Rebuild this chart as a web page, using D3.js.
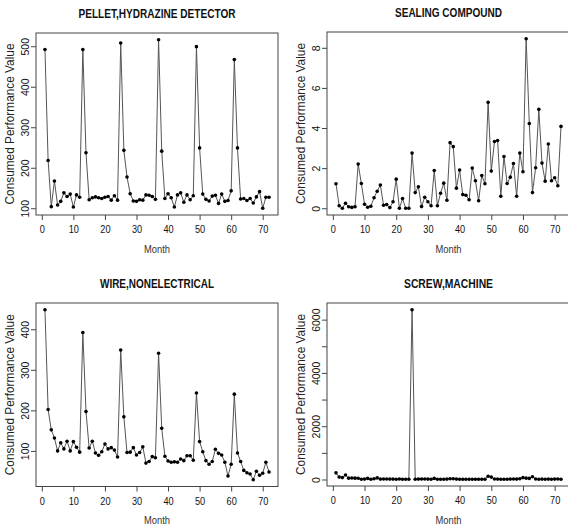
<!DOCTYPE html>
<html>
<head>
<meta charset="utf-8">
<script src="https://cdn.jsdelivr.net/npm/d3@7"></script>
<style>
body { margin: 0; background: #fff; }
text { font-family: "Liberation Sans", Arial, sans-serif; fill: #111; }
</style>
</head>
<body>
<div id="chart"></div>
<script>
var w = 568, h = 528

// month index 1..72
var months = d3.range(1, 73)

var pellet = [492, 218, 104, 167, 108, 117, 138, 129, 135, 103, 133, 127,
  492, 237, 121, 126, 128, 126, 124, 127, 129, 120, 131, 120,
  508, 243, 177, 136, 118, 117, 121, 120, 133, 132, 129, 122,
  516, 241, 124, 136, 126, 103, 133, 138, 115, 133, 121, 131,
  499, 249, 135, 122, 118, 130, 132, 112, 135, 117, 119, 143,
  467, 249, 123, 124, 119, 124, 113, 128, 141, 100, 127, 127]

var sealing = [1.22, 0.12, 0.0, 0.25, 0.07, 0.04, 0.07, 2.2, 1.23, 0.2, 0.05, 0.1,
  0.52, 0.85, 1.16, 0.15, 0.18, 0.03, 0.32, 1.45, 0.0, 0.48, 0.0, 0.0,
  2.75, 0.78, 1.07, 0.08, 0.55, 0.32, 0.12, 1.88, 0.12, 0.75, 1.25, 0.4,
  3.27, 3.07, 1.0, 1.9, 0.68, 0.65, 0.42, 2.0, 1.37, 0.37, 1.63, 1.22,
  5.28, 1.85, 3.33, 3.38, 0.6, 2.58, 1.23, 1.55, 2.23, 0.6, 2.75, 1.82,
  8.45, 4.22, 0.78, 2.02, 4.93, 2.25, 1.35, 3.2, 1.37, 1.52, 1.12, 4.08]

var wire = [448, 202, 152, 132, 100, 120, 105, 124, 100, 123, 109, 97,
  392, 197, 107, 124, 95, 89, 98, 117, 105, 108, 102, 85,
  349, 184, 96, 97, 108, 90, 96, 110, 70, 74, 86, 83,
  341, 156, 87, 75, 72, 73, 72, 80, 76, 88, 88, 77,
  243, 123, 98, 76, 67, 74, 104, 94, 90, 72, 38, 67,
  240, 95, 74, 52, 46, 43, 29, 50, 40, 45, 72, 48]

var screw = [250, 90, 70, 170, 50, 55, 50, 45, 10, 15, 40, 10,
  25, 60, 15, 20, 20, 15, 15, 10, 20, 10, 10, 10,
  6370, 10, 15, 20, 20, 15, 10, 40, 10, 10, 10, 15,
  30, 25, 15, 10, 10, 10, 10, 10, 10, 10, 10, 10,
  120, 90, 20, 15, 10, 10, 10, 15, 20, 15, 30, 70,
  50, 40, 100, 20, 10, 15, 10, 15, 10, 15, 20, 10]

var titles = ['PELLET,HYDRAZINE DETECTOR', 'SEALING COMPOUND', 'WIRE,NONELECTRICAL', 'SCREW,MACHINE']
var xTicks = [0, 10, 20, 30, 40, 50, 60, 70]
var yTicksPellet = [100, 200, 300, 400, 500]
var yTicksSealing = [0, 2, 4, 6, 8]
var yTicksWire = [100, 200, 300, 400]
var yTicksScrew = [0, 1000, 2000, 3000, 4000, 5000, 6000]
var yLabelsScrew = [0, 2000, 4000, 6000]

var svg = d3.select('#chart').append('svg')
    .attr('width', w).attr('height', h)

var panels = [
  {title: titles[0], values: pellet, ticks: yTicksPellet, labels: yTicksPellet,
   box: {l: 36, r: 278, t: 33, b: 215}, titleLen: 157},
  {title: titles[1], values: sealing, ticks: yTicksSealing, labels: yTicksSealing,
   box: {l: 327, r: 570, t: 32, b: 215}, titleLen: 107},
  {title: titles[2], values: wire, ticks: yTicksWire, labels: yTicksWire,
   box: {l: 36, r: 278, t: 303, b: 486.5}, titleLen: 114},
  {title: titles[3], values: screw, ticks: yTicksScrew, labels: yLabelsScrew,
   box: {l: 327, r: 570, t: 303, b: 486}, titleLen: 89}
]

// R style 4% axis padding
function pad(ext){
  var d = (ext[1] - ext[0]) * 0.04
  return [ext[0] - d, ext[1] + d]
}

panels.forEach(drawPanel)

function drawPanel(p){
  var b = p.box
  var x = d3.scaleLinear().domain(pad(d3.extent(months))).range([b.l, b.r])
  var y = d3.scaleLinear().domain(pad(d3.extent(p.values))).range([b.b, b.t])
  var g = svg.append('g')

  var line = d3.line()
      .x(function(d, i){ return x(months[i]) })
      .y(function(d){ return y(d) })

  g.append('path')
      .attr('d', line(p.values))
      .style('fill', 'none').style('stroke', '#555').style('stroke-width', 1)

  g.selectAll('circle').data(p.values).enter().append('circle')
      .attr('cx', function(d, i){ return x(months[i]) })
      .attr('cy', function(d){ return y(d) })
      .attr('r', 1.8)
      .style('fill', '#000')

  g.append('rect')
      .attr('x', b.l).attr('y', b.t)
      .attr('width', b.r - b.l).attr('height', b.b - b.t)
      .style('fill', 'none').style('stroke', '#444').style('stroke-width', 1)

  var xa = g.append('g')
      .attr('transform', 'translate(0,' + b.b + ')')
      .call(d3.axisBottom(x).tickValues(xTicks).tickSize(5).tickFormat(d3.format('d')))
  xa.select('.domain').remove()
  xa.selectAll('line').style('stroke', '#444')
  xa.selectAll('text')
      .attr('y', 18).attr('dy', 0)
      .attr('textLength', function(d){ return String(d).length * 5.1 })
      .attr('lengthAdjust', 'spacingAndGlyphs')
      .style('font-size', '11.5px').style('fill', '#111')

  var ya = g.append('g')
      .attr('transform', 'translate(' + b.l + ',0)')
      .call(d3.axisLeft(y).tickValues(p.ticks).tickSize(5)
        .tickFormat(function(d){ return p.labels.indexOf(d) >= 0 ? d : '' }))
  ya.select('.domain').remove()
  ya.selectAll('line').style('stroke', '#444')
  ya.selectAll('text')
      .attr('x', 0).attr('y', -7).attr('dy', 0)
      .attr('transform', 'rotate(-90)')
      .style('text-anchor', 'middle')
      .style('font-size', '10.5px').style('fill', '#111')

  var cx = (b.l + b.r) / 2
  g.append('text')
      .attr('x', cx).attr('y', b.t - 15.5)
      .attr('text-anchor', 'middle')
      .attr('textLength', p.titleLen).attr('lengthAdjust', 'spacingAndGlyphs')
      .style('font-weight', 'bold').style('font-size', '12.5px')
      .text(p.title)

  g.append('text')
      .attr('x', cx).attr('y', b.b + 37.5)
      .attr('text-anchor', 'middle')
      .attr('textLength', 26).attr('lengthAdjust', 'spacingAndGlyphs')
      .style('font-size', '11px').style('fill', '#333')
      .text('Month')

  g.append('text')
      .attr('transform', 'translate(' + (b.l - 22) + ',' + ((b.t + b.b) / 2) + ') rotate(-90)')
      .attr('text-anchor', 'middle')
      .attr('textLength', 161).attr('lengthAdjust', 'spacingAndGlyphs')
      .style('font-size', '12px').style('fill', '#222')
      .text('Consumed Performance Value')
}
</script>
</body>
</html>
